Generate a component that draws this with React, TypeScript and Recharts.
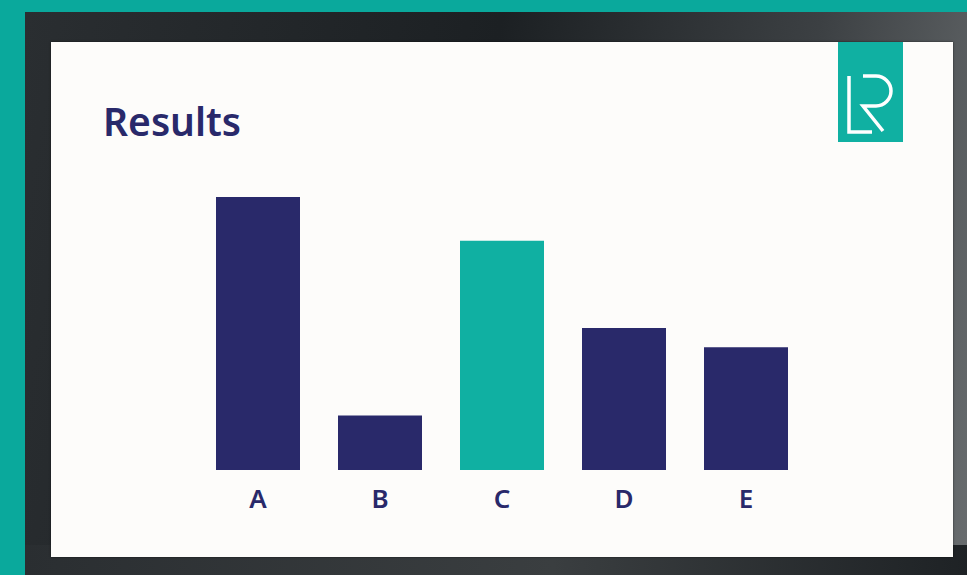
import React from 'react';
import { BarChart, Bar, XAxis, YAxis, Cell } from 'recharts';

// categories and values (no axis shown, relative heights)
const categories = ['A', 'B', 'C', 'D', 'E'];
const values = [10, 2.0, 8.4, 5.2, 4.5];
const highlighted = 'C';

const NAVY = '#29296a';
const TEAL = '#10b0a2';

const data = categories.map((name, i) => ({ name, value: values[i] }));

function LogoBox() {
    return (
        <div
            style={{
                position: 'absolute',
                left: 838,
                top: 42,
                width: 65,
                height: 100,
                background: TEAL,
            }}
        >
            <svg width={65} height={100}>
                {/* L */}
                <path d="M11 34 V90 H34" stroke="#fff" strokeWidth={3.5} fill="none" />
                {/* R */}
                <path
                    d="M25 34 H38 A15 15 0 0 1 38 64 H25 L45 89"
                    stroke="#fff"
                    strokeWidth={3.5}
                    fill="none"
                />
            </svg>
        </div>
    );
}

export default function App() {
    return (
        <div
            style={{
                position: 'fixed',
                left: 0,
                top: 0,
                width: 967,
                height: 575,
                overflow: 'hidden',
                background: '#0aa99c',
            }}
        >
            {/* monitor frame */}
            <div
                style={{
                    position: 'absolute',
                    left: 25,
                    top: 12,
                    width: 960,
                    height: 580,
                    background: 'linear-gradient(100deg, #2a2e31 0%, #1c2023 45%, #3c4043 75%, #6d7173 100%)',
                }}
            />
            <div
                style={{
                    position: 'absolute',
                    left: 25,
                    top: 545,
                    width: 960,
                    height: 40,
                    background: 'linear-gradient(90deg, #2a2e31 0%, #3a3e40 55%, #1d2124 100%)',
                }}
            />
            {/* slide */}
            <div
                style={{
                    position: 'absolute',
                    left: 51,
                    top: 42,
                    width: 902,
                    height: 515,
                    background: '#fdfcfa',
                    boxShadow: '0 0 2px rgba(0,0,0,0.6)',
                }}
            />
            <div
                style={{
                    position: 'absolute',
                    left: 103,
                    top: 95,
                    fontFamily: '"Noto Sans", Lato, sans-serif',
                    fontWeight: 600,
                    fontSize: 39,
                    color: NAVY,
                    lineHeight: '52px',
                }}
            >
                Results
            </div>
            <LogoBox />
            <div style={{ position: 'absolute', left: 150, top: 150 }}>
                <BarChart
                    width={700}
                    height={380}
                    data={data}
                    margin={{ top: 47, right: 43, bottom: 0, left: 47 }}
                >
                    <XAxis
                        dataKey="name"
                        axisLine={false}
                        tickLine={false}
                        height={60}
                        tickMargin={14}
                        tick={{
                            fill: NAVY,
                            fontSize: 26,
                            fontWeight: 600,
                            fontFamily: '"Noto Sans", sans-serif',
                        }}
                    />
                    <YAxis hide domain={[0, 'dataMax']} />
                    <Bar dataKey="value" barSize={84} isAnimationActive={false}>
                        {data.map((d) => (
                            <Cell key={d.name} fill={d.name === highlighted ? TEAL : NAVY} />
                        ))}
                    </Bar>
                </BarChart>
            </div>
        </div>
    );
}
